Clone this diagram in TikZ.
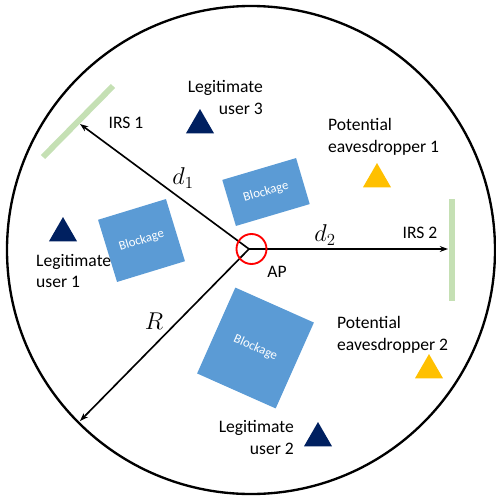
\documentclass[tikz,border=0pt]{standalone}
\usepackage{fontspec}
\setmainfont{Carlito}
\usepackage{tikz}
\usetikzlibrary{arrows.meta, shapes.geometric}
\usepackage{xcolor}
\usepackage{amsmath}
\definecolor{Navy}  {HTML}{002060}
\definecolor{Gold}  {HTML}{FFC000}
\definecolor{BlkB}  {HTML}{5B9BD5}
\definecolor{IrsG}  {HTML}{C5E0B4}
\definecolor{ApRed} {HTML}{FF0000}
\tikzset{
  blkg/.style args={#1/#2/#3}{
    rectangle, fill=BlkB, text=white,
    font=\fontsize{11}{13}\selectfont,
    minimum width=#1*0.03cm, minimum height=#2*0.03cm,
    inner sep=0pt, rotate=#3,
  },
  usr/.style args={#1}{
    regular polygon, regular polygon sides=3,
    fill=#1, inner sep=0pt, minimum size=0.97cm,
  },
  txt/.style={
    font=\fontsize{15}{18.7}\selectfont, inner sep=0pt,
  },
  mth/.style={
    font=\fontsize{20}{24}\selectfont, inner sep=0pt,
  },
  bar/.style={
    draw=IrsG, line width=5pt,
  },
  arr/.style={
    -{Stealth[length=7pt,width=5pt]}, line width=1.4pt,
  },
}
\begin{document}
\begin{tikzpicture}[x=0.03cm,y=-0.03cm]
    \useasboundingbox (0,0) rectangle (495,496);
    \draw[line width=2pt] (251,250) circle[radius=244*0.03cm];
    % blockages
    \node[blkg=71/65/17] (blk1) at (141.5,240.5) {Blockage};
    \node[blkg=77/48/16.5] (blk2) at (266,192) {Blockage};
    \node[blkg=86/94/-24] (blk3) at (255.5,348) {Blockage};
    % IRS panels
    \draw[bar] (43,157) -- (113,86);
    \draw[bar] (452,199) -- (452,301);
    \coordinate (irs1) at (80,124);
    \coordinate (irs2) at (448,249);
    \coordinate (rim) at (80,421);
    \coordinate (apc) at (249,249);
    \draw[arr] (apc) -- (irs1);
    \draw[arr] (apc) -- (irs2);
    \draw[arr] (apc) -- (rim);
    \node[circle, draw=ApRed, line width=1.6pt, minimum size=30*0.03cm, inner sep=0pt] (ap) at (251.5,249) {};
    % users and eavesdroppers
    \node[usr=Navy] (user3) at (200,125.2) {};
    \node[usr=Navy] (user1) at (63,233.2) {};
    \node[usr=Navy] (user2) at (318,438.2) {};
    \node[usr=Gold] (eve1) at (377,179.2) {};
    \node[usr=Gold] (eve2) at (429,370.2) {};
    % labels
    \node[txt, align=right, anchor=east] (user3l) at (263,97.5) {Legitimate\\user 3};
    \node[txt, align=left, anchor=west] (user1l) at (36,271) {Legitimate\\user 1};
    \node[txt, align=right, anchor=east] (user2l) at (294,437.5) {Legitimate\\user 2};
    \node[txt, align=left, anchor=west] (eve1l) at (328,137) {Potential\\eavesdropper 1};
    \node[txt, align=left, anchor=west] (eve2l) at (337,335) {Potential\\eavesdropper 2};
    \node[txt] (irs1l) at (126,123) {IRS 1};
    \node[txt] (irs2l) at (420,233) {IRS 2};
    \node[txt] (apl) at (277,272) {AP};
    \node[mth] (d1l) at (183,178) {$d_1$};
    \node[mth] (d2l) at (325,235) {$d_2$};
    \node[mth] (rl) at (154,321) {$R$};
  \end{tikzpicture}
\end{document}
